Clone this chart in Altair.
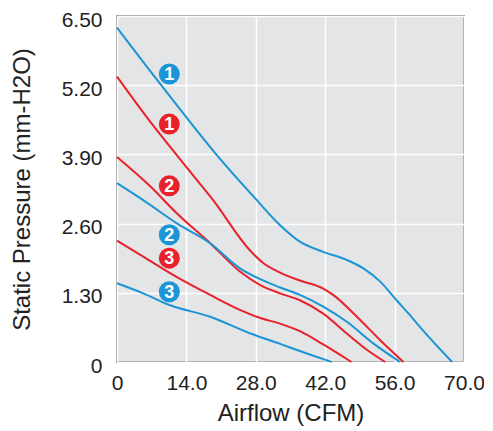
import altair as alt
import pandas as pd

# Curve data (x = Airflow CFM, y = Static Pressure mm-H2O)
blue1_x = [0, 6.0, 12.7, 20.1, 28.2, 32.9, 36.9, 41.6, 46.3, 49.7, 53.1, 56.4, 59.1, 61.1, 67.6]
blue1_y = [6.28, 5.55, 4.75, 3.89, 3.04, 2.57, 2.26, 2.07, 1.92, 1.76, 1.51, 1.16, 0.88, 0.66, 0]

red1_x = [0, 6.0, 12.7, 19.4, 26.8, 29.5, 32.9, 36.9, 41.6, 43.6, 48.4, 53.1, 57.8]
red1_y = [5.36, 4.60, 3.81, 3.04, 2.10, 1.86, 1.68, 1.53, 1.38, 1.26, 0.85, 0.41, 0]

red2_x = [0, 6.7, 12.0, 18.8, 24.8, 28.8, 32.9, 36.9, 41.6, 46.3, 50.4, 54.1]
red2_y = [3.85, 3.30, 2.80, 2.23, 1.70, 1.45, 1.29, 1.16, 0.91, 0.54, 0.23, 0]

blue2_x = [0, 5.3, 12.0, 18.8, 24.8, 28.8, 32.9, 36.9, 41.6, 46.3, 51.7, 57.1]
blue2_y = [3.36, 3.04, 2.61, 2.23, 1.76, 1.56, 1.40, 1.26, 1.04, 0.76, 0.35, 0]

red3_x = [0, 5.3, 12.0, 18.8, 24.8, 28.8, 32.9, 36.9, 41.6, 47.3]
red3_y = [2.28, 1.98, 1.60, 1.26, 0.98, 0.83, 0.72, 0.58, 0.33, 0]

blue3_x = [0, 5.3, 10.6, 18.8, 26.8, 32.9, 38.3, 43.3]
blue3_y = [1.48, 1.29, 1.07, 0.85, 0.54, 0.34, 0.16, 0]

# Circled labels
label_x = [10.55, 10.55, 10.55, 10.55, 10.55, 10.55]
label_y = [5.41, 4.47, 3.31, 2.39, 1.95, 1.32]
label_text = ["1", "1", "2", "2", "3", "3"]
label_color = ["blue", "red", "red", "blue", "red", "blue"]

BLUE = "#1b95d5"
RED = "#e8222b"

series = [
    ("blue1", "blue", blue1_x, blue1_y),
    ("red1", "red", red1_x, red1_y),
    ("red2", "red", red2_x, red2_y),
    ("blue2", "blue", blue2_x, blue2_y),
    ("red3", "red", red3_x, red3_y),
    ("blue3", "blue", blue3_x, blue3_y),
]
rows = []
for name, col, xs, ys in series:
    for i, (a, b) in enumerate(zip(xs, ys)):
        rows.append({"series": name, "color": col, "x": a, "y": b, "order": i})
lines_df = pd.DataFrame(rows)

labels_df = pd.DataFrame({"x": label_x, "y": label_y, "t": label_text, "color": label_color})

color_scale = alt.Scale(domain=["blue", "red"], range=[BLUE, RED])

x_scale = alt.Scale(domain=[0, 70], nice=False, zero=False)
y_scale = alt.Scale(domain=[0, 6.5], nice=False, zero=False)

x_axis = alt.Axis(
    values=[0, 14, 28, 42, 56, 70],
    labelExpr="datum.value == 0 ? '0' : format(datum.value, '.1f')",
    title="Airflow (CFM)",
    ticks=False, domain=False, grid=True,
    gridColor="white", gridWidth=1.5,
    labelFont="Liberation Sans", labelFontSize=21, labelColor="#222222",
    labelPadding=10, labelFlush=False, labelOverlap=False,
    titleFont="Liberation Sans", titleFontSize=24, titleFontWeight="normal",
    titleColor="#222222", titleY=51, titleBaseline="middle",
)
y_axis = alt.Axis(
    values=[0, 1.3, 2.6, 3.9, 5.2, 6.5],
    labelExpr="datum.value == 0 ? '0' : format(datum.value, '.2f')",
    title="Static Pressure (mm-H2O)",
    ticks=False, domain=False, grid=True,
    gridColor="white", gridWidth=1.5,
    labelFont="Liberation Sans", labelFontSize=21, labelColor="#222222",
    labelPadding=15, labelFlush=False, labelOverlap=False, labelOffset=4,
    titleFont="Liberation Sans", titleFontSize=24, titleFontWeight="normal",
    titleColor="#222222", titleX=-95, titleY=173, titleAngle=-90,
    titleAlign="center", titleBaseline="middle",
)

lines = alt.Chart(lines_df).mark_line(strokeWidth=2, interpolate="monotone").encode(
    x=alt.X("x:Q", scale=x_scale, axis=x_axis),
    y=alt.Y("y:Q", scale=y_scale, axis=y_axis),
    detail="series:N",
    order="order:Q",
    color=alt.Color("color:N", scale=color_scale, legend=None),
)

circles = alt.Chart(labels_df).mark_point(filled=True, shape="circle", size=440, opacity=1).encode(
    x=alt.X("x:Q", scale=x_scale),
    y=alt.Y("y:Q", scale=y_scale),
    color=alt.Color("color:N", scale=color_scale, legend=None),
)

texts = alt.Chart(labels_df).mark_text(
    font="Liberation Sans", fontSize=18, fontWeight="bold", color="white",
    align="center", baseline="middle", dy=1,
).encode(
    x=alt.X("x:Q", scale=x_scale),
    y=alt.Y("y:Q", scale=y_scale),
    text="t:N",
)

chart = alt.layer(lines, circles, texts).properties(
    width=347, height=346,
    autosize="none",
    padding={"left": 109, "top": 8, "right": 20, "bottom": 68},
    background="white",
).configure_view(
    fill="#e4e5e7", stroke="#9a9a9a", strokeWidth=2,
)

chart.save("out.html", embed_options={"renderer": "svg", "actions": False})
